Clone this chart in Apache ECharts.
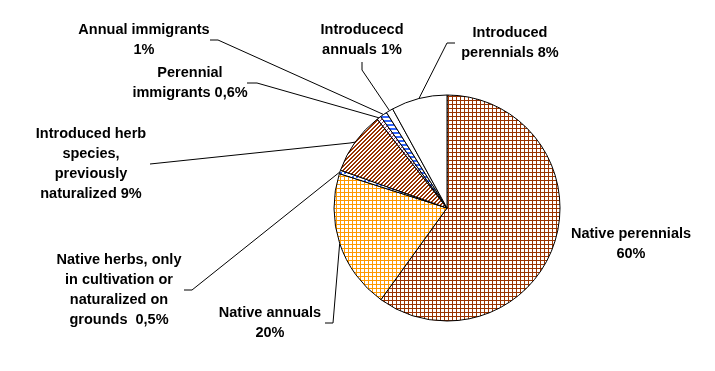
<!DOCTYPE html>
<html><head><meta charset="utf-8">
<script src="https://cdn.jsdelivr.net/npm/echarts@6/dist/echarts.min.js"></script>
<style>html,body{margin:0;padding:0;background:#fff}#c{width:715px;height:371px}</style>
</head><body><div id="c"></div>
<script>
// Data (clockwise from 12 o'clock)
const categories = ['Native perennials','Native annuals','Native herbs, only in cultivation or naturalized on grounds','Introduced herb species, previously naturalized','Perennial immigrants','Annual immigrants','Introducecd annuals','Introduced perennials'];
const values = [60, 20, 0.5, 9, 0.6, 1, 1, 8];
const labelTexts = ['Native perennials\n60%','Native annuals\n20%','Native herbs, only\nin cultivation or\nnaturalized on\ngrounds  0,5%','Introduced herb\nspecies,\npreviously\nnaturalized 9%','Perennial\nimmigrants 0,6%','Annual immigrants\n1%','Introducecd\nannuals 1%','Introduced\nperennials 8%'];

// Layout: label centres and leader-line bend/end points
const labelPos = [[631,244],[270,323],[119,290],[91,164],[190,83],[144,40],[362,40],[510,43]];
const lineBends = [null, [[333,323],[325,323]], [[192,290],[184,290]], [[350,143],[150,164]], [[257,83],[247,83]], [[218,40],[210,40]], [[362,70],[362,62]], [[447,43],[455,43]]];

function pat(w,h,fn){const c=document.createElement('canvas');c.width=w;c.height=h;const g=c.getContext('2d');g.fillStyle='#fff';g.fillRect(0,0,w,h);fn(g);return {image:c,repeat:'repeat'};}
function px(g,col,x,y){g.fillStyle=col;g.fillRect(x,y,1,1);}
const gridBrown = pat(4,4,g=>{g.fillStyle='#993300';g.fillRect(0,0,4,1);g.fillRect(0,0,1,4);});
const gridOrange = pat(4,4,g=>{g.fillStyle='#FF9900';g.fillRect(0,0,4,1);g.fillRect(0,0,1,4);});
const diagBrown = pat(4,4,g=>{for(let x=0;x<4;x++)for(let y=0;y<4;y++){if(((x+y)%4)<2)px(g,'#993300',x,y);}});
const blueDots = pat(4,4,g=>{g.fillStyle='#3366FF';g.fillRect(0,0,2,2);});
const diagPurple = pat(4,4,g=>{for(let x=0;x<4;x++)for(let y=0;y<4;y++){if(((x+y)%4)<1)px(g,'#993366',x,y);}});
const blueHoriz = pat(4,4,g=>{g.fillStyle='#3366FF';g.fillRect(0,0,4,2);});
const fills = [gridBrown, gridOrange, blueDots, diagBrown, diagPurple, blueHoriz, '#ffffff', '#ffffff'];

const chart = echarts.init(document.getElementById('c'), null, {renderer:'canvas'});
chart.setOption({
  animation:false,
  backgroundColor:'#fff',
  series:[{
    type:'pie',
    center:[447,208],
    radius:113,
    startAngle:90,
    clockwise:true,
    avoidLabelOverlap:false,
    emphasis:{disabled:true},
    itemStyle:{borderColor:'#000',borderWidth:1},
    label:{show:true,position:'outside',color:'#000',fontFamily:'Liberation Sans, Arial, sans-serif',fontWeight:'bold',fontSize:14.5,lineHeight:20,align:'center',
      formatter:p=>labelTexts[p.dataIndex]},
    labelLine:{show:true,lineStyle:{color:'#000',width:1}},
    data:categories.map((n,i)=>({name:n,value:values[i],itemStyle:{color:fills[i]},labelLine:{show:i!==0}})),
    labelLayout:function(p){
      const i=p.dataIndex;
      const o={x:labelPos[i][0],y:labelPos[i][1],align:'center',verticalAlign:'middle'};
      if(lineBends[i]&&p.labelLinePoints){o.labelLinePoints=[p.labelLinePoints[0],lineBends[i][0],lineBends[i][1]];}
      return o;
    }
  }]
});
</script></body></html>
